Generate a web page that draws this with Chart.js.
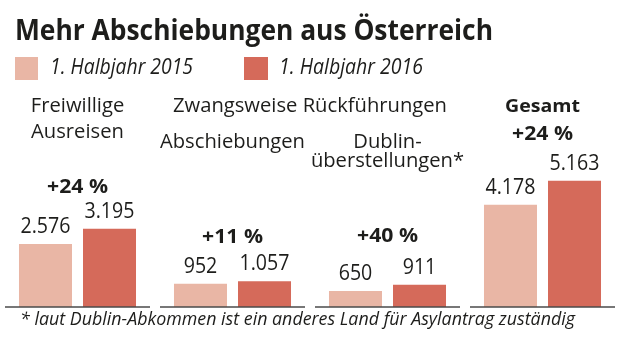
<!DOCTYPE html>
<html><head><meta charset="utf-8">
<script src="https://cdn.jsdelivr.net/npm/chart.js@4"></script>
<style>
html,body{margin:0;padding:0;background:#fff;}
#wrap{position:relative;width:620px;height:345px;overflow:hidden;font-family:'Open Sans',sans-serif;color:#1d1d1b;}
#c{position:absolute;left:0;top:0;}
.t{position:absolute;white-space:nowrap;transform-origin:0 0;line-height:1;display:inline-block;}
.sq{position:absolute;}
</style></head>
<body>
<div id="wrap">
  <canvas id="c" width="620" height="345"></canvas>
  <div class="t" id="title" style="left:15px;top:15.2px;font-size:28px;font-weight:700;">Mehr Abschiebungen aus Österreich</div>
  <div class="sq" style="left:15px;top:57px;width:23px;height:23px;background:#e9b6a5;"></div>
  <div class="t" id="leg1" style="left:50px;top:53.6px;font-size:22px;font-style:italic;">1. Halbjahr 2015</div>
  <div class="sq" style="left:244px;top:57px;width:24px;height:23px;background:#d56a5a;"></div>
  <div class="t" id="leg2" style="left:279px;top:53.6px;font-size:22px;font-style:italic;">1. Halbjahr 2016</div>
  <div class="t" id="foot" style="left:20px;top:309.5px;font-size:17.5px;font-style:italic;">* laut Dublin-Abkommen ist ein anderes Land für Asylantrag zuständig</div>
</div>
<script>
// ---- data ----
const categories = [['Freiwillige','Ausreisen'], ['Abschiebungen'], ['Dublin-','überstellungen*'], ['Gesamt']];
const groupHeader = 'Zwangsweise Rückführungen';
const seriesNames = ['1. Halbjahr 2015', '1. Halbjahr 2016'];
const values2015 = [2576, 952, 650, 4178];
const values2016 = [3195, 1057, 911, 5163];
const changeLabels = ['+24 %', '+11 %', '+40 %', '+24 %'];

// ---- fit HTML texts ----
function fit(id, target){ const el=document.getElementById(id); const w=el.getBoundingClientRect().width; el.style.transform='scaleX('+(target/w)+')'; }
fit('title',478); fit('leg1',143); fit('leg2',144); fit('foot',555);

function fmt(v){ return String(v).replace(/\B(?=(\d{3})+(?!\d))/g,'.'); }

const FONT = "'Open Sans', sans-serif";
const mctx = document.createElement('canvas').getContext('2d');
function scaleFor(font, ref, target){ mctx.font=font; return target/mctx.measureText(ref).width; }
const regCat = '19.5px ' + FONT;
const regVal = '21px ' + FONT;
const boldF = '700 18.5px ' + FONT;
const pctF = '700 19px ' + FONT;
const sReg = scaleFor(regCat, groupHeader, 274);
const sVal = scaleFor(regVal, '3.195', 50);
const sBold = scaleFor(boldF, 'Gesamt', 75);
const sPct = scaleFor(pctF, '+24 %', 61);

function drawText(ctx, text, x, y, font, sx){
  ctx.save(); ctx.font=font; ctx.textAlign='center'; ctx.textBaseline='alphabetic';
  ctx.fillStyle='#1d1d1b'; ctx.translate(x,y); ctx.scale(sx,1); ctx.fillText(text,0,0); ctx.restore();
}

const labelPlugin = {
  id:'labels',
  afterDatasetsDraw(chart, args, o){
    const ctx=chart.ctx, xs=chart.scales.x, ys=chart.scales.y;
    const base=ys.getPixelForValue(0);
    ctx.save();
    ctx.strokeStyle=o.axisColor; ctx.lineWidth=o.axisWidth;
    categories.forEach((c,i)=>{
      const cx=xs.getPixelForValue(i);
      ctx.beginPath(); ctx.moveTo(cx-o.segHalf, base); ctx.lineTo(cx+o.segHalf, base); ctx.stroke();
    });
    ctx.restore();
    chart.data.datasets.forEach((ds,di)=>{
      chart.getDatasetMeta(di).data.forEach((bar,i)=>{
        drawText(ctx, fmt(ds.data[i]), bar.x, bar.y-o.valueGap, regVal, sVal);
      });
    });
    categories.forEach((lines,i)=>{
      const cx=xs.getPixelForValue(i);
      lines.forEach((ln,k)=>{
        const bold=o.catBold[i];
        drawText(ctx, ln, cx, o.catBaselines[i][k], bold?boldF:regCat, bold?sBold:sReg);
      });
      drawText(ctx, changeLabels[i], cx, o.pctBaselines[i], pctF, sPct);
    });
    const hx=(xs.getPixelForValue(o.headerSpan[0])+xs.getPixelForValue(o.headerSpan[1]))/2;
    drawText(ctx, groupHeader, hx, o.headerBaseline, regCat, sReg);
  }
};

new Chart(document.getElementById('c'), {
  type:'bar',
  data:{
    labels: categories,
    datasets:[
      {label:seriesNames[0], data:values2015, backgroundColor:'#e9b6a5', categoryPercentage:0.826, barPercentage:0.828},
      {label:seriesNames[1], data:values2016, backgroundColor:'#d56a5a', categoryPercentage:0.826, barPercentage:0.828}
    ]
  },
  options:{
    responsive:false, animation:false, devicePixelRatio:1,
    layout:{padding:{top:111.3,bottom:38,left:0,right:0}},
    scales:{x:{display:false}, y:{display:false,min:0,max:8000}},
    plugins:{
      legend:{display:false}, tooltip:{enabled:false}, title:{display:false},
      labels:{
        axisColor:'#4a4a4a', axisWidth:1.3, segHalf:72.5, valueGap:11,
        catBaselines:[[112,138],[148],[148,167],[112]],
        catBold:[false,false,false,true],
        pctBaselines:[193,243,242,140],
        headerBaseline:112, headerSpan:[1,2]
      }
    }
  },
  plugins:[labelPlugin]
});
</script>
</body></html>
